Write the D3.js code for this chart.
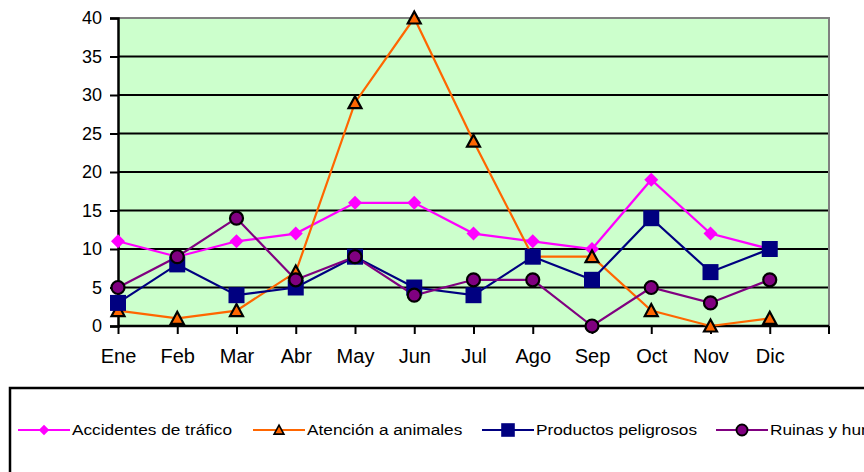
<!DOCTYPE html>
<html>
<head>
<meta charset="utf-8">
<script src="https://cdn.jsdelivr.net/npm/d3@7"></script>
<style>
  body { margin: 0; background: #fff; overflow: hidden; }
  svg { display: block; font-family: "Liberation Sans", Arial, sans-serif; }
</style>
</head>
<body>
<div id="chart"></div>
<script>
// data
var months = ['Ene', 'Feb', 'Mar', 'Abr', 'May', 'Jun', 'Jul', 'Ago', 'Sep', 'Oct', 'Nov', 'Dic'];
var accidentes = [11, 9, 11, 12, 16, 16, 12, 11, 10, 19, 12, 10];
var animales = [2, 1, 2, 7, 29, 40, 24, 9, 9, 2, 0, 1];
var productos = [3, 8, 4, 5, 9, 5, 4, 9, 6, 14, 7, 10];
var ruinas = [5, 9, 14, 6, 9, 4, 6, 6, 0, 5, 3, 6];
var yTicks = [0, 5, 10, 15, 20, 25, 30, 35, 40];

var series = [
  { name: 'Accidentes de tráfico', values: accidentes, color: '#FF00FF', marker: 'diamond' },
  { name: 'Atención a animales', values: animales, color: '#FF6600', marker: 'triangle' },
  { name: 'Productos peligrosos', values: productos, color: '#000080', marker: 'square' },
  { name: 'Ruinas y hundimientos', values: ruinas, color: '#800080', marker: 'circle' }
];

var width = 864, height = 472;
var plotL = 118, plotR = 829, plotT = 18, plotB = 326;
var step = (plotR - plotL) / months.length;

var svg = d3.select('#chart').append('svg')
  .attr('width', width)
  .attr('height', height);

var x = d3.scalePoint()
  .domain(months)
  .range([plotL, plotL + step * (months.length - 1)]);

var y = d3.scaleLinear()
  .domain([0, 40])
  .range([plotB, plotT]);

// plot background
svg.append('rect')
  .attr('x', plotL).attr('y', plotT)
  .attr('width', plotR - plotL).attr('height', plotB - plotT)
  .attr('fill', '#CCFFCC');

// grid lines
svg.append('g').selectAll('line')
  .data(yTicks.filter(function (d) { return d > 0 && d < 40; }))
  .enter().append('line')
  .attr('x1', plotL).attr('x2', plotR)
  .attr('y1', function (d) { return y(d); })
  .attr('y2', function (d) { return y(d); })
  .attr('stroke', '#000').attr('stroke-width', 2);

// grey top/right border
svg.append('path')
  .attr('d', 'M' + plotL + ',' + plotT + 'H' + plotR + 'V' + plotB)
  .attr('fill', 'none').attr('stroke', '#808080').attr('stroke-width', 2);

// y axis
var yAxis = svg.append('g')
  .attr('transform', 'translate(' + plotL + ',0)')
  .call(d3.axisLeft(y).tickValues(yTicks).tickSize(8).tickPadding(8));
yAxis.select('.domain').attr('stroke', '#000').attr('stroke-width', 2.5);
yAxis.selectAll('.tick line').attr('stroke', '#000').attr('stroke-width', 2);
yAxis.selectAll('.tick text')
  .attr('font-size', 18).attr('fill', '#000')
  .attr('font-family', '"Liberation Sans", Arial, sans-serif');

// x axis
var xAxis = svg.append('g')
  .attr('transform', 'translate(0,' + plotB + ')')
  .call(d3.axisBottom(x).tickSize(8).tickPadding(15));
xAxis.select('.domain').remove();
xAxis.append('line')
  .attr('x1', plotL).attr('x2', plotR)
  .attr('stroke', '#000').attr('stroke-width', 2.5);
xAxis.append('line')
  .attr('x1', plotR).attr('x2', plotR).attr('y1', 0).attr('y2', 8)
  .attr('stroke', '#000').attr('stroke-width', 2);
xAxis.selectAll('.tick line').attr('stroke', '#000').attr('stroke-width', 2);
xAxis.selectAll('.tick text')
  .attr('font-size', 20).attr('fill', '#000')
  .attr('font-family', '"Liberation Sans", Arial, sans-serif');

var symbols = {
  diamond: function (g, color) {
    g.append('path').attr('d', 'M0,-7L7,0L0,7L-7,0Z').attr('fill', color);
  },
  triangle: function (g, color) {
    g.append('path').attr('d', 'M0,-6.5L6.5,5.5L-6.5,5.5Z').attr('fill', color)
      .attr('stroke', '#000').attr('stroke-width', 2.2).attr('stroke-linejoin', 'miter');
  },
  square: function (g, color) {
    g.append('rect').attr('x', -8).attr('y', -8).attr('width', 16).attr('height', 16).attr('fill', color);
  },
  circle: function (g, color) {
    g.append('circle').attr('r', 6.5).attr('fill', color)
      .attr('stroke', '#000').attr('stroke-width', 2.2);
  }
};

var line = d3.line()
  .x(function (d, i) { return x(months[i]); })
  .y(function (d) { return y(d); });

series.forEach(function (s) {
  svg.append('path')
    .datum(s.values)
    .attr('d', line)
    .attr('fill', 'none')
    .attr('stroke', s.color)
    .attr('stroke-width', 2.2);
});

series.forEach(function (s) {
  s.values.forEach(function (v, i) {
    var g = svg.append('g').attr('transform', 'translate(' + x(months[i]) + ',' + y(v) + ')');
    symbols[s.marker](g, s.color);
  });
});

// legend
svg.append('rect')
  .attr('x', 10).attr('y', 388)
  .attr('width', 880).attr('height', 120)
  .attr('fill', '#fff').attr('stroke', '#000').attr('stroke-width', 2.5);

var legendX = [18, 253, 482, 716];
var legendScale = [0.75, 0.75, 0.85, 0.85];
series.forEach(function (s, i) {
  var g = svg.append('g').attr('transform', 'translate(' + legendX[i] + ',430)');
  g.append('line').attr('x1', 0).attr('x2', 52)
    .attr('stroke', s.color).attr('stroke-width', 2.2);
  var m = g.append('g').attr('transform', 'translate(26,0) scale(' + legendScale[i] + ')');
  symbols[s.marker](m, s.color);
  g.append('text')
    .attr('transform', 'translate(54,0) scale(1.15,1)')
    .attr('dy', '0.36em')
    .attr('font-size', 15).attr('fill', '#000')
    .text(s.name);
});
</script>
</body>
</html>
